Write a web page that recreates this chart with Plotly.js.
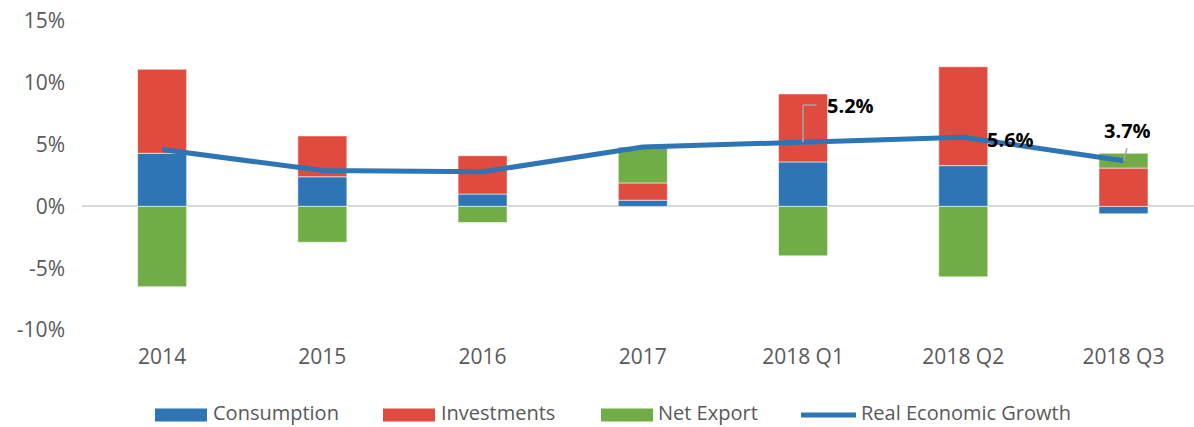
<!DOCTYPE html>
<html>
<head>
<meta charset="utf-8">
<script src="https://cdn.plot.ly/plotly-3.0.1.min.js"></script>
<style>html,body{margin:0;padding:0;background:#fff;}#chart{width:1194px;height:427px;}</style>
</head>
<body>
<div id="chart"></div>
<script>
var categories = ["2014", "2015", "2016", "2017", "2018 Q1", "2018 Q2", "2018 Q3"];
var consumption = [4.3, 2.4, 1.0, 0.5, 3.6, 3.3, -0.6];
var investments = [6.8, 3.3, 3.1, 1.4, 5.5, 8.0, 3.1];
var netExport = [-6.5, -2.9, -1.3, 2.9, -4.0, -5.7, 1.2];
var growth = [4.6, 2.9, 2.8, 4.8, 5.2, 5.6, 3.7];
var labelledPoints = [4, 5, 6];
var yTickValues = [-10, -5, 0, 5, 10, 15];
var yTickLabels = ["-10%", "-5%", "0%", "5%", "10%", "15%"];

var font = "'Open Sans', 'Liberation Sans', sans-serif";
var grey = "#595959";
var colors = {cons: "#2E75B6", inv: "#E04B40", net: "#70AD47", line: "#2E75B6"};
var barLine = {color: "rgba(255,255,255,0.55)", width: 1};
var traces = [
  {type: "bar", name: "Consumption", x: categories, y: consumption, marker: {color: colors.cons, line: barLine}},
  {type: "bar", name: "Investments", x: categories, y: investments, marker: {color: colors.inv, line: barLine}},
  {type: "bar", name: "Net Export", x: categories, y: netExport, marker: {color: colors.net, line: barLine}},
  {type: "scatter", mode: "lines", name: "Real Economic Growth", x: categories, y: growth, line: {color: colors.line, width: 5}}
];

// plot area geometry (pixels) used to place the custom legend in paper units
var L = 82, R = 1194, T = 21, B = 330;
function px(x) { return (x - L) / (R - L); }
function py(y) { return (B - y) / (B - T); }

var annotations = [];
var textOffsets = {4: [47, 37], 5: [47, -2], 6: [4, 30]};
labelledPoints.forEach(function (i) {
  var off = textOffsets[i];
  annotations.push({
    x: categories[i], y: growth[i], xref: "x", yref: "y",
    text: "<b>" + growth[i].toFixed(1) + "%</b>",
    showarrow: false, xshift: off[0], yshift: off[1],
    font: {family: font, size: 20, color: "#000000"}
  });
});

var leader = {color: "#A6A6A6", width: 1.5};
var shapes = [
  {type: "line", xref: "x", yref: "y", x0: 4, x1: 4, y0: growth[4], y1: growth[4] + 3.0, line: leader},
  {type: "line", xref: "x", yref: "y", x0: 4, x1: 4.085, y0: growth[4] + 3.0, y1: growth[4] + 3.0, line: leader},
  {type: "line", xref: "x", yref: "y", x0: 6, x1: 6.022, y0: growth[6], y1: growth[6] + 1.0, line: leader}
];

// custom legend (wide swatches as in the original)
var legendItems = [
  {name: traces[0].name, color: colors.cons, kind: "box", x0: 155, x1: 207, tx: 212},
  {name: traces[1].name, color: colors.inv, kind: "box", x0: 383, x1: 435, tx: 440},
  {name: traces[2].name, color: colors.net, kind: "box", x0: 601, x1: 653, tx: 657},
  {name: traces[3].name, color: colors.line, kind: "line", x0: 801, x1: 856, tx: 860}
];
var legY = 415, legTextY = 412.5;
legendItems.forEach(function (it) {
  if (it.kind === "box") {
    shapes.push({type: "rect", xref: "paper", yref: "paper", x0: px(it.x0), x1: px(it.x1),
      y0: py(legY + 6.5), y1: py(legY - 6.5), fillcolor: it.color, line: {width: 0}});
  } else {
    shapes.push({type: "line", xref: "paper", yref: "paper", x0: px(it.x0), x1: px(it.x1),
      y0: py(legY), y1: py(legY), line: {color: it.color, width: 5}});
  }
  annotations.push({xref: "paper", yref: "paper", x: px(it.tx), y: py(legTextY), xanchor: "left", yanchor: "middle",
    text: it.name, showarrow: false, borderpad: 0, font: {family: font, size: 20, color: grey}});
});

var layout = {
  width: 1194, height: 427,
  margin: {l: L, r: 1194 - R, t: T, b: 427 - B},
  paper_bgcolor: "#ffffff", plot_bgcolor: "#ffffff",
  barmode: "relative", bargap: 0.694,
  font: {family: font, color: grey, size: 20},
  showlegend: false,
  xaxis: {type: "category", range: [-0.5, 6.44], showgrid: false, zeroline: false, showline: false,
          ticks: "", tickfont: {family: font, size: 21, color: grey}, ticklabelstandoff: 12, automargin: false},
  yaxis: {range: [-10, 15], tickvals: yTickValues, ticktext: yTickLabels, showgrid: false,
          zeroline: true, zerolinecolor: "#D9D9D9", zerolinewidth: 2, showline: false,
          ticks: "", tickfont: {family: font, size: 21, color: grey}, ticklabelstandoff: 16, automargin: false},
  annotations: annotations,
  shapes: shapes
};
Plotly.newPlot("chart", traces, layout, {displayModeBar: false, staticPlot: true});
</script>
</body>
</html>
